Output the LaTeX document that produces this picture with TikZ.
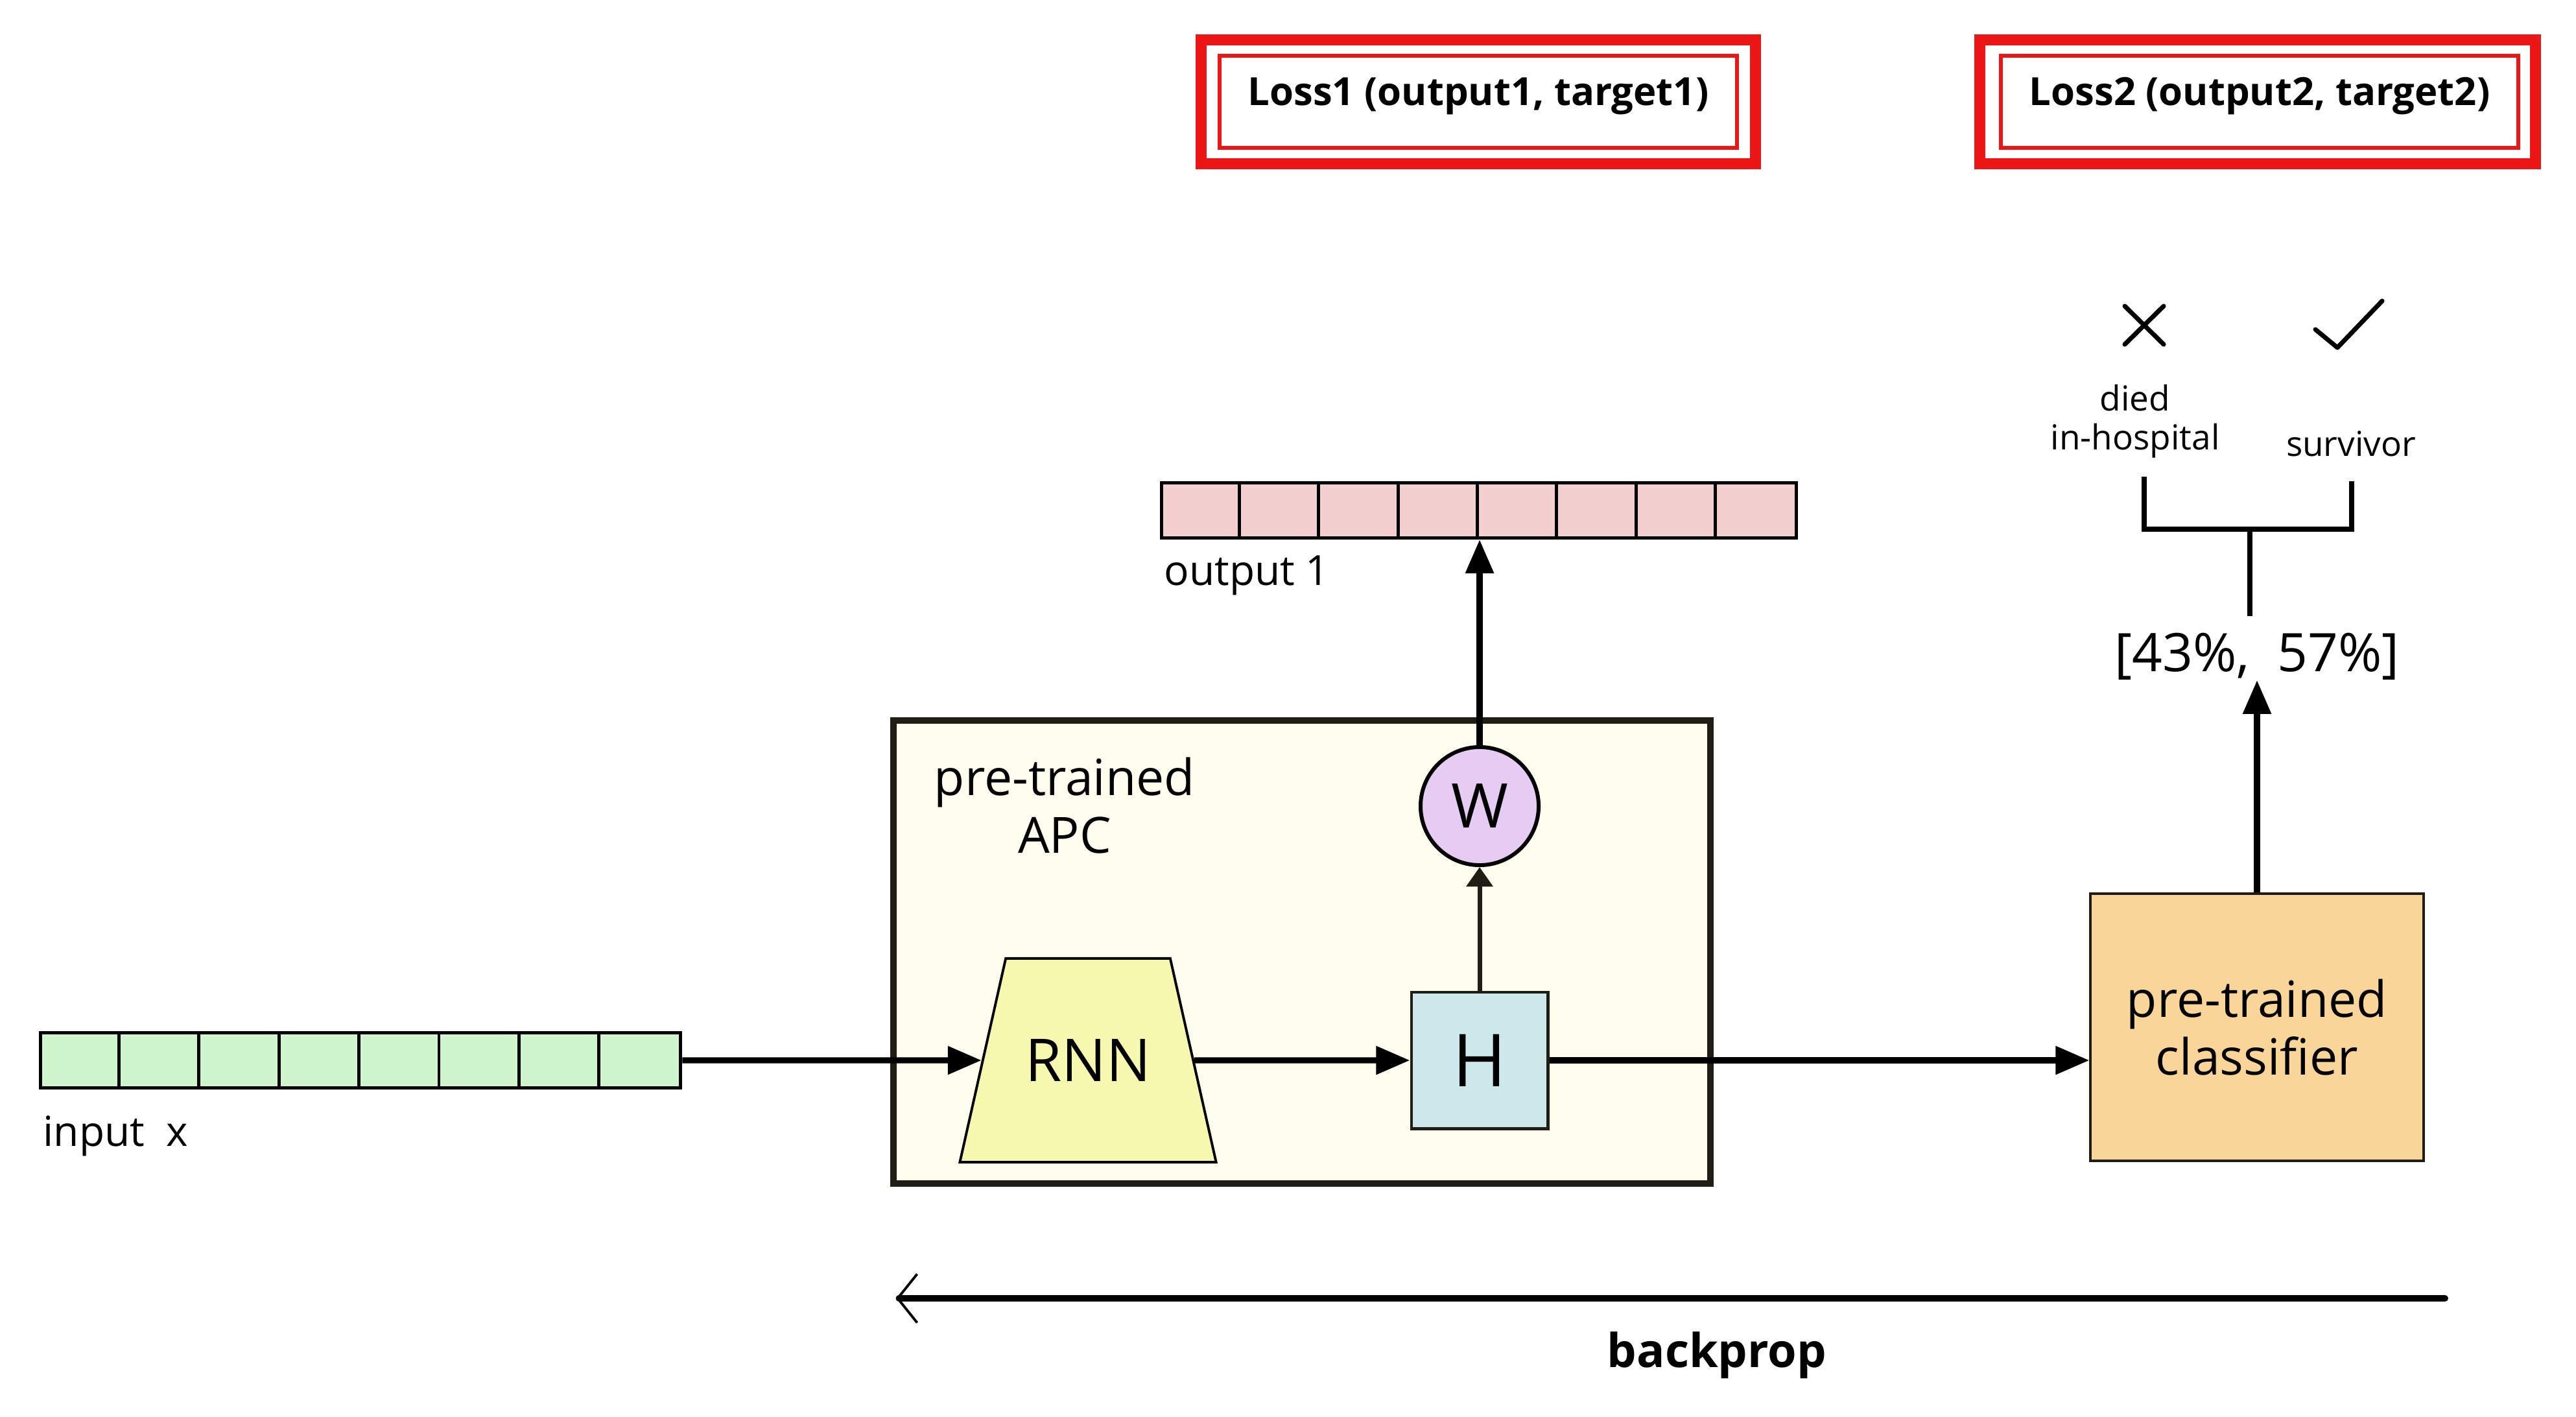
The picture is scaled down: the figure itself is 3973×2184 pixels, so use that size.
\documentclass[tikz,border=0pt]{standalone}
\usepackage{fontspec}
\setmainfont{Open Sans}
\usetikzlibrary{arrows.meta,shapes.geometric}

\definecolor{lossred}{RGB}{236,22,22}
\definecolor{ingreen}{RGB}{206,245,204}
\definecolor{outpink}{RGB}{243,207,207}
\definecolor{apcbg}{RGB}{254,254,238}
\definecolor{rnnyellow}{RGB}{247,248,176}
\definecolor{hblue}{RGB}{205,232,234}
\definecolor{wpurple}{RGB}{230,204,242}
\definecolor{clsorange}{RGB}{250,213,154}
\definecolor{darkline}{RGB}{30,30,20}

\begin{document}
\begin{tikzpicture}[x=0.01cm, y=-0.01cm,
  txt/.style={inner sep=0pt},
  arr/.style={line width=2.6pt, -{Triangle[length=0.52cm,width=0.42cm]}},
  vec/.style={draw, line width=1.4pt, minimum height=0.85cm, inner sep=0pt},
  lossbox/.style={draw=lossred, line width=1.7pt, minimum width=7.98cm, minimum height=1.42cm,
    text height=12.9pt, text depth=9.5pt, font=\bfseries\fontsize{17pt}{20pt}\selectfont},
  lossframe/.style={draw=lossred, line width=4.8pt},
  tree/.style={line width=2.3pt}]

\useasboundingbox (0,0) rectangle (3973,2184);

% losses
\node[lossbox] (loss1) at (2280,157) {Loss1 (output1, target1)};
\draw[lossframe] ([shift={(-0.25cm,0.215cm)}]loss1.north west) rectangle ([shift={(0.25cm,-0.215cm)}]loss1.south east);
\node[lossbox] (loss2) at (3485,157) {Loss2 (output2, target2)};
\draw[lossframe] ([shift={(-0.29cm,0.215cm)}]loss2.north west) rectangle ([shift={(0.23cm,-0.215cm)}]loss2.south east);

% output vector
\node[vec, fill=outpink, minimum width=9.78cm] (out) at (2281,787) {};
\foreach \i in {1,...,7}
  \draw[line width=1.4pt] ([xshift=\i*1.2225cm]out.north west) -- ([xshift=\i*1.2225cm]out.south west);
\node[txt, anchor=base west, font=\fontsize{18.2pt}{22pt}\selectfont] (outlbl) at (1795,902) {output 1};

% input vector
\node[vec, fill=ingreen, minimum width=9.87cm] (inp) at (556,1635) {};
\foreach \i in {1,...,7}
  \draw[line width=1.4pt] ([xshift=\i*1.23375cm]inp.north west) -- ([xshift=\i*1.23375cm]inp.south west);
\node[txt, anchor=base west, font=\fontsize{18.2pt}{22pt}\selectfont] (inlbl) at (66,1767) {input\ \ x};

% APC
\node[draw=darkline, line width=2.8pt, fill=apcbg, minimum width=12.6cm, minimum height=7.13cm] (apc) at (2008,1468) {};
\node[txt, align=center, font=\fontsize{21.9pt}{25.3pt}\selectfont] (apclbl) at (1642,1242) {pre-trained\\APC};

\node[trapezium, trapezium angle=77.3, draw, line width=1.1pt, fill=rnnyellow,
  inner xsep=0.3cm, inner ysep=1.245cm, text height=18.5pt, text depth=0pt,
  font=\fontsize{25.9pt}{30pt}\selectfont] (rnn) at (1678,1635) {RNN};
\node[draw=darkline, line width=1.4pt, fill=hblue, minimum size=2.1cm, inner sep=0pt,
  font=\fontsize{32pt}{36pt}\selectfont] (h) at (2282,1635) {H};
\node[circle, draw, line width=1.7pt, fill=wpurple, minimum size=1.82cm, inner sep=0pt,
  font=\fontsize{27pt}{30pt}\selectfont] (w) at (2282,1243) {W};

% classifier
\node[draw=darkline, line width=1.1pt, fill=clsorange, minimum width=5.13cm, minimum height=4.12cm, align=center,
  font=\fontsize{21.9pt}{25.3pt}\selectfont] (cls) at (3481,1584) {pre-trained\\classifier};
\node[txt, font=\fontsize{23.3pt}{27pt}\selectfont] (probs) at (3481,1012) {[43\%,\ \ 57\%]};

\node[txt, align=center, font=\fontsize{15.1pt}{17pt}\selectfont] (died) at (3293,650) {died\\in-hospital};
\node[txt, font=\fontsize{15.1pt}{17pt}\selectfont] (surv) at (3626,684) {survivor};

% cross and tick
\draw[line width=2pt, line cap=round] (3277,472) -- (3337,531) (3277,531) -- (3337,472);
\draw[line width=2pt, line cap=round, line join=round] (3571,508) -- (3605,536) -- (3674,464);

% arrows
\draw[arr] (inp) -- (rnn);
\draw[arr] (rnn) -- (h);
\draw[arr] (h.east) -- (h.east -| cls.west);
\draw[darkline, line width=2pt, -{Triangle[length=0.3cm,width=0.4cm]}] (h) -- (w);
\draw[arr] (w.north) -- (w.north |- out.south);
\draw[arr] (cls.north) -- (probs.south);

% fork
\coordinate (fork) at (3470,816);
\coordinate (barl) at (3307,816);
\coordinate (barr) at (3627,816);
\draw[tree, shorten <=0.25cm] (probs.north -| fork) -- (fork);
\draw[tree, shorten <=0.28cm, shorten >=0.38cm] (died.south -| barl) -- (barl) -- (barr) -- (surv.south -| barr);

% backprop
\coordinate (bpfrom) at (3771,2002);
\coordinate (bpto) at (1382,2002);
\draw[line width=2.8pt, line cap=round, -{Straight Barb[length=0.3cm,width=0.75cm,line width=1.1pt]}] (bpfrom) -- (bpto);
\node[txt, font=\bfseries\fontsize{20.5pt}{24pt}\selectfont] (bplbl) at (2648,2090) {backprop};
\end{tikzpicture}
\end{document}
